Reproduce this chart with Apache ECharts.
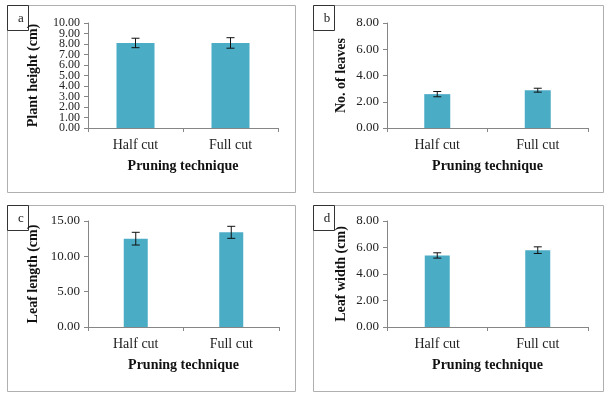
<!DOCTYPE html>
<html>
<head>
<meta charset="utf-8">
<script src="https://cdn.jsdelivr.net/npm/echarts@6/dist/echarts.min.js"></script>
<style>
  html, body { margin: 0; padding: 0; background: #fff; }
  #chart { width: 607px; height: 395px; }
</style>
</head>
<body>
<div id="chart"></div>
<script>
const categories = ["Half cut", "Full cut"];

const heightMean = [8.1, 8.1];
const heightErr = [0.45, 0.5];
const leavesMean = [2.58, 2.88];
const leavesErr = [0.2, 0.15];
const lengthMean = [12.5, 13.4];
const lengthErr = [0.9, 0.85];
const widthMean = [5.4, 5.8];
const widthErr = [0.2, 0.25];

// panel a has crowded ticks, labels drawn in two passes so none get hidden
const heightTicksEven = [0, 2, 4, 6, 8, 10];
const heightTicksOdd = [1, 3, 5, 7, 9];

const panelLetters = ["a", "b", "c", "d"];
const yNames = ["Plant height (cm)", "No. of leaves", "Leaf length (cm)", "Leaf width (cm)"];
const yMax = [10, 8, 15, 8];
const yStep = [1, 2, 5, 2];
const xName = "Pruning technique";

const means = [heightMean, leavesMean, lengthMean, widthMean];
const errs = [heightErr, leavesErr, lengthErr, widthErr];

const serif = "Liberation Serif";
const barColor = "#4bacc6";
const axisColor = "#868686";

const grids = [
  { left: 88, top: 23, width: 190, height: 105 },
  { left: 387, top: 23, width: 201, height: 105 },
  { left: 88, top: 221, width: 191, height: 106 },
  { left: 387, top: 221, width: 201, height: 106 }
];
const panels = [
  { x: 7, y: 5, w: 288, h: 187 },
  { x: 313, y: 5, w: 290, h: 187 },
  { x: 7, y: 205, w: 288, h: 186 },
  { x: 313, y: 205, w: 290, h: 186 }
];
const barWidths = [38, 26, 24, 25];
const nameGaps = [48, 39, 48, 39];

const chart = echarts.init(document.getElementById("chart"));

const xAxis = grids.map((g, i) => ({
  type: "category",
  gridIndex: i,
  data: categories,
  axisLine: { lineStyle: { color: axisColor, width: 1 } },
  axisTick: { show: true, length: 4, lineStyle: { color: axisColor } },
  axisLabel: { fontFamily: serif, fontSize: 14, color: "#222", margin: 10 },
  name: xName,
  nameLocation: "middle",
  nameGap: 31,
  nameTextStyle: { fontFamily: serif, fontSize: 14, fontWeight: "bold", color: "#111" }
}));

const yAxis = grids.map((g, i) => {
  const label = {
    fontFamily: serif,
    fontSize: i === 0 ? 12 : 13,
    color: "#222",
    margin: 8,
    formatter: v => v.toFixed(2)
  };
  if (i === 0) label.customValues = heightTicksEven;
  return {
    type: "value",
    gridIndex: i,
    min: 0,
    max: yMax[i],
    interval: yStep[i],
    axisLine: { show: true, lineStyle: { color: axisColor, width: 1 } },
    axisTick: { show: true, length: 4, lineStyle: { color: axisColor } },
    splitLine: { show: false },
    axisLabel: label,
    name: yNames[i],
    nameLocation: "middle",
    nameGap: nameGaps[i],
    nameRotate: 90,
    nameTextStyle: { fontFamily: serif, fontSize: 14, fontWeight: "bold", color: "#111" }
  };
});

yAxis.push({
  type: "value",
  gridIndex: 0,
  position: "left",
  min: 0,
  max: yMax[0],
  interval: yStep[0],
  axisLine: { show: false },
  axisTick: { show: false },
  splitLine: { show: false },
  axisLabel: {
    fontFamily: serif,
    fontSize: 12,
    color: "#222",
    margin: 8,
    customValues: heightTicksOdd,
    formatter: v => v.toFixed(2)
  }
});

const series = [];
means.forEach((m, i) => {
  series.push({
    type: "bar",
    xAxisIndex: i,
    yAxisIndex: i,
    data: m,
    barWidth: barWidths[i],
    itemStyle: { color: barColor },
    silent: true
  });
  series.push({
    type: "custom",
    xAxisIndex: i,
    yAxisIndex: i,
    data: m.map((v, k) => [k, v - errs[i][k], v + errs[i][k]]),
    renderItem: (params, api) => {
      const lo = api.coord([api.value(0), api.value(1)]);
      const hi = api.coord([api.value(0), api.value(2)]);
      const cap = 4;
      const style = { stroke: "#111", lineWidth: 1 };
      return {
        type: "group",
        children: [
          { type: "line", shape: { x1: lo[0], y1: lo[1], x2: hi[0], y2: hi[1] }, style },
          { type: "line", shape: { x1: lo[0] - cap, y1: lo[1], x2: lo[0] + cap, y2: lo[1] }, style },
          { type: "line", shape: { x1: hi[0] - cap, y1: hi[1], x2: hi[0] + cap, y2: hi[1] }, style }
        ]
      };
    },
    z: 5,
    silent: true
  });
});

const graphic = [];
panels.forEach((p, i) => {
  graphic.push({
    type: "rect",
    shape: { x: p.x + 0.5, y: p.y + 0.5, width: p.w, height: p.h },
    style: { fill: "none", stroke: "#b0b0b0", lineWidth: 1 },
    silent: true
  });
  graphic.push({
    type: "rect",
    shape: { x: p.x + 0.5, y: p.y + 0.5, width: 21, height: 25 },
    style: { fill: "#fff", stroke: "#333", lineWidth: 1 },
    silent: true
  });
  graphic.push({
    type: "text",
    x: p.x + 14,
    y: p.y + 14,
    style: {
      text: panelLetters[i],
      fontFamily: serif,
      fontSize: 13,
      fill: "#222",
      align: "center",
      verticalAlign: "middle"
    },
    silent: true
  });
});

chart.setOption({
  animation: false,
  backgroundColor: "#fff",
  grid: grids.map(g => Object.assign({ containLabel: false }, g)),
  xAxis: xAxis,
  yAxis: yAxis,
  series: series,
  graphic: graphic
});
</script>
</body>
</html>
